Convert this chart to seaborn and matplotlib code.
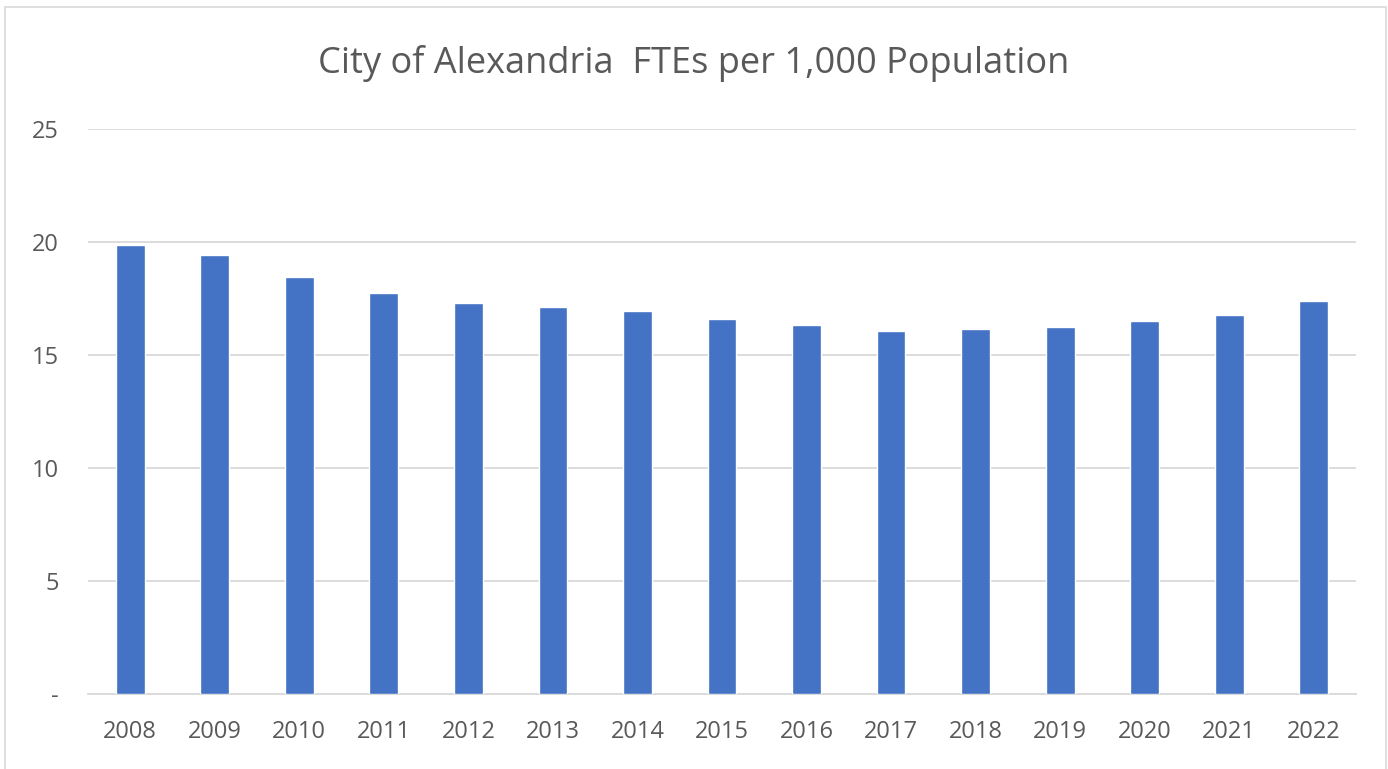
import matplotlib
matplotlib.use("Agg")
import matplotlib.pyplot as plt
import seaborn as sns
import pandas as pd
from matplotlib.patches import Rectangle

years = ["2008", "2009", "2010", "2011", "2012", "2013", "2014", "2015",
         "2016", "2017", "2018", "2019", "2020", "2021", "2022"]
ftes_per_1000 = [19.86, 19.43, 18.45, 17.75, 17.30, 17.13, 16.96, 16.57,
                 16.30, 16.04, 16.12, 16.21, 16.49, 16.74, 17.38]
y_ticks = [0, 5, 10, 15, 20, 25]
y_tick_labels = ["-", "5", "10", "15", "20", "25"]
title = "City of Alexandria  FTEs per 1,000 Population"

df = pd.DataFrame({"year": years, "value": ftes_per_1000})

sns.set_theme(style="white")
plt.rcParams["font.family"] = ["Open Sans", "DejaVu Sans"]

fig = plt.figure(figsize=(13.88, 7.69), dpi=100)
ax = fig.add_axes([88/1388, 1-694/769, (1356-88)/1388, (694-128.7)/769])

sns.barplot(data=df, x="year", y="value", color="#4472C4", width=0.34,
            saturation=1, ax=ax, zorder=3)

ax.set_ylim(0, 25)
ax.set_yticks(y_ticks)
ax.set_yticklabels(y_tick_labels)
ax.yaxis.grid(True, color="#d9d9d9", linewidth=1.3, zorder=0)
ax.set_axisbelow(True)
for s in ["top", "right", "left"]:
    ax.spines[s].set_visible(False)
ax.spines["bottom"].set_color("#d9d9d9")
ax.spines["bottom"].set_linewidth(1.3)
ax.set_xlabel("")
ax.set_ylabel("")
ax.tick_params(axis="both", length=0, labelsize=17, labelcolor="#595959")
ax.tick_params(axis="x", pad=19)
ax.tick_params(axis="y", pad=21)

fig.text(0.5, 1-64/769, title, ha="center", va="center", fontsize=26,
         color="#595959")

fig.patches.append(Rectangle((5/1388, -0.01), 1381/1388, 1-7/769+0.01,
                             transform=fig.transFigure, fill=False,
                             edgecolor="#d9d9d9", linewidth=1.2))

fig.savefig("out.png", dpi=100)
